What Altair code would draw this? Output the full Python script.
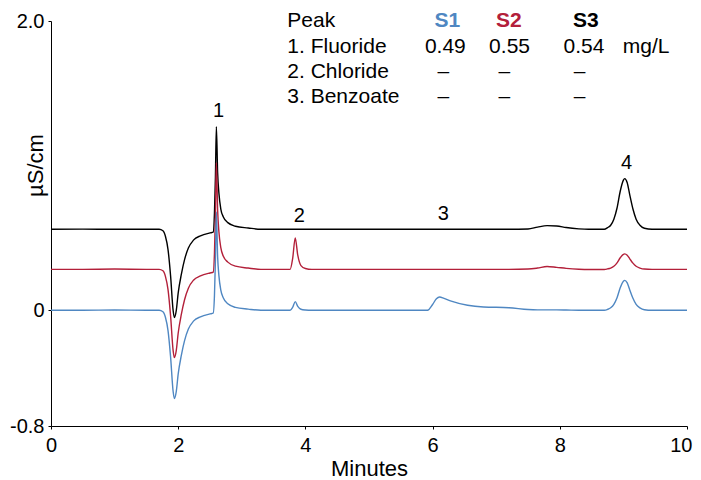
import altair as alt
import pandas as pd

FONT = "Liberation Sans"

# ---- chromatogram data (minutes, µS/cm) ----
times = [0, 0.5, 1.0, 1.5, 1.70, 1.76, 1.80, 1.84, 1.88, 1.92, 1.94, 1.97, 2.00, 2.05, 2.10,
         2.16, 2.24, 2.35, 2.50, 2.55, 2.57, 2.585, 2.60, 2.62, 2.64, 2.67, 2.71, 2.78, 2.90,
         3.10, 3.30, 3.76, 3.80, 3.84, 3.88, 3.93, 4.00, 4.10, 5.0, 5.92, 6.00, 6.06, 6.11,
         6.18, 6.28, 6.55, 6.80, 7.20, 7.50, 7.65, 7.80, 7.95, 8.10, 8.30, 8.45, 8.70, 8.75,
         8.80, 8.85, 8.90, 8.95, 9.00, 9.02, 9.06, 9.10, 9.15, 9.20, 9.26, 9.33, 9.45, 10.0]

s1 = [0, 0, 0.002, 0, 0, -0.01, -0.05, -0.14, -0.32, -0.56, -0.61, -0.56, -0.44, -0.31, -0.21,
      -0.13, -0.075, -0.045, -0.025, -0.02, 0.10, 0.34, 0.68, 0.37, 0.24, 0.14, 0.085, 0.045, 0.02,
      0.008, 0, 0, 0.021, 0.06, 0.027, 0.007, 0.002, 0, 0, 0, 0.04, 0.08, 0.092,
      0.082, 0.065, 0.035, 0.023, 0.018, 0.005, 0.003, 0.003, 0.003, 0.002, 0, 0, 0, 0.006,
      0.017, 0.041, 0.087, 0.155, 0.201, 0.207, 0.19, 0.141, 0.083, 0.041, 0.017, 0.004, 0, 0]

s2 = [0.283, 0.283, 0.285, 0.283, 0.283, 0.273, 0.233, 0.143, -0.037, -0.277, -0.327, -0.277, -0.157, -0.027, 0.073,
      0.153, 0.208, 0.238, 0.258, 0.263, 0.393, 0.653, 1.02, 0.693, 0.543, 0.433, 0.373, 0.333, 0.305,
      0.292, 0.283, 0.283, 0.359, 0.50, 0.381, 0.309, 0.289, 0.283, 0.283, 0.283, 0.283, 0.283, 0.283,
      0.283, 0.283, 0.283, 0.283, 0.283, 0.285, 0.292, 0.303, 0.297, 0.29, 0.284, 0.282, 0.282, 0.286,
      0.292, 0.304, 0.328, 0.363, 0.387, 0.39, 0.381, 0.356, 0.326, 0.304, 0.292, 0.285, 0.283, 0.283]

s3 = [0.56, 0.561, 0.56, 0.56, 0.56, 0.55, 0.51, 0.42, 0.24, 0.0, -0.05, 0.0, 0.12, 0.25, 0.35,
      0.43, 0.485, 0.515, 0.535, 0.54, 0.67, 0.915, 1.27, 0.95, 0.81, 0.70, 0.645, 0.606, 0.581,
      0.569, 0.56, 0.56, 0.56, 0.56, 0.56, 0.56, 0.56, 0.56, 0.56, 0.56, 0.56, 0.56, 0.56,
      0.56, 0.56, 0.56, 0.56, 0.56, 0.562, 0.575, 0.585, 0.583, 0.572, 0.563, 0.56, 0.56, 0.571,
      0.588, 0.63, 0.707, 0.823, 0.90, 0.91, 0.882, 0.798, 0.70, 0.63, 0.588, 0.567, 0.56, 0.56]

series_names = ["S1", "S2", "S3"]
series_colors = ["#4f87c2", "#b3203a", "#000000"]

# ---- table / annotation text ----
table_header = "Peak"
compounds = ["1. Fluoride", "2. Chloride", "3. Benzoate"]
conc_s1 = ["0.49", "–", "–"]
conc_s2 = ["0.55", "–", "–"]
conc_s3 = ["0.54", "–", "–"]
unit_label = "mg/L"
peak_labels = ["1", "2", "3", "4"]

x_ticks = [0, 2, 4, 6, 8, 10]
y_ticks = [-0.8, 0, 2.0]
y_tick_labels = ["-0.8", "0", "2.0"]

# ---- layout (data coordinates) ----
row_y = [1.961, 1.779, 1.606, 1.433]
name_x = 3.716
header_x = [6.23, 7.20, 8.41]
value_x = [6.20, 7.21, 8.38]
dash_x = [6.17, 7.13, 8.31]
unit_x = 8.99
peak_label_x = [2.635, 3.905, 6.17, 9.05]
peak_label_y = [1.336, 0.61, 0.624, 0.977]
TXT = 21

label_expr = "''"
for v, lab in zip(y_ticks, y_tick_labels):
    label_expr = f"abs(datum.value - ({v})) < 0.001 ? '{lab}' : " + label_expr

last_x = x_ticks[-1]
x_enc = alt.X("t:Q",
              scale=alt.Scale(domain=[0, 10], nice=False, zero=False),
              axis=alt.Axis(values=x_ticks, title="Minutes", format="d", labelFlush=False,
                            labelAlign={"condition": {"test": f"datum.value == {last_x}", "value": "right"},
                                        "value": "center"},
                            labelOffset={"condition": {"test": f"datum.value == {last_x}", "value": 5},
                                         "value": 0},
                            labelFontSize=20, titleFontSize=22, tickSize=3,
                            labelPadding=6, titleBaseline="alphabetic", titleY=49))
y_enc = alt.Y("v:Q",
              scale=alt.Scale(domain=[-0.8, 2.0], nice=False, zero=False),
              axis=alt.Axis(values=y_ticks, labelExpr=label_expr, title="µS/cm",
                            labelFontSize=20, titleFontSize=22, tickSize=3,
                            labelPadding=4, titleAngle=-90, titleBaseline="alphabetic",
                            titleAlign="center", titleX=-9, titleY=144))

layers = []
for name, vals in [("S3", s3), ("S2", s2), ("S1", s1)]:
    col = series_colors[series_names.index(name)]
    df = pd.DataFrame({"t": times, "v": vals})
    layers.append(alt.Chart(df).mark_line(color=col, strokeWidth=1.4, interpolate="monotone")
                  .encode(x=x_enc, y=y_enc))

# left column names
names_df = pd.DataFrame({"t": [name_x] * 4, "v": row_y, "label": [table_header] + compounds})
layers.append(alt.Chart(names_df).mark_text(align="left", baseline="alphabetic", fontSize=TXT,
                                            font=FONT, color="black")
              .encode(x=x_enc, y=y_enc, text="label:N"))

# column headers
head_df = pd.DataFrame({"t": header_x, "v": [row_y[0]] * 3, "label": series_names})
layers.append(alt.Chart(head_df).mark_text(align="center", baseline="alphabetic", fontSize=TXT,
                                           font=FONT, fontWeight="bold")
              .encode(x=x_enc, y=y_enc, text="label:N",
                      color=alt.Color("label:N", scale=alt.Scale(domain=series_names,
                                                                  range=series_colors),
                                      legend=None)))

# values
vals_t, vals_v, vals_l = [], [], []
for ci, col in enumerate([conc_s1, conc_s2, conc_s3]):
    for ri, txt in enumerate(col):
        vals_t.append(value_x[ci] if txt != "–" else dash_x[ci])
        vals_v.append(row_y[ri + 1])
        vals_l.append(txt)
vals_df = pd.DataFrame({"t": vals_t, "v": vals_v, "label": vals_l})
layers.append(alt.Chart(vals_df).mark_text(align="center", baseline="alphabetic", fontSize=TXT,
                                           font=FONT, color="black")
              .encode(x=x_enc, y=y_enc, text="label:N"))

unit_df = pd.DataFrame({"t": [unit_x], "v": [row_y[1]], "label": [unit_label]})
layers.append(alt.Chart(unit_df).mark_text(align="left", baseline="alphabetic", fontSize=TXT,
                                           font=FONT, color="black")
              .encode(x=x_enc, y=y_enc, text="label:N"))

peaks_df = pd.DataFrame({"t": peak_label_x, "v": peak_label_y, "label": peak_labels})
layers.append(alt.Chart(peaks_df).mark_text(align="center", baseline="alphabetic", fontSize=20,
                                            font=FONT, color="black")
              .encode(x=x_enc, y=y_enc, text="label:N"))

chart = alt.layer(*layers).properties(
    width=636, height=405,
    autosize=alt.AutoSizeParams(type="none"),
    padding={"left": 43, "top": 13, "right": 6, "bottom": 55},
).configure_view(stroke=None).configure_axis(
    labelFont=FONT, titleFont=FONT, domainColor="black", tickColor="black",
    labelColor="black", titleColor="black", titleFontWeight="normal", grid=False,
    domainWidth=1, tickWidth=1,
)

chart.save("out.html", embed_options={"renderer": "svg", "actions": False})
